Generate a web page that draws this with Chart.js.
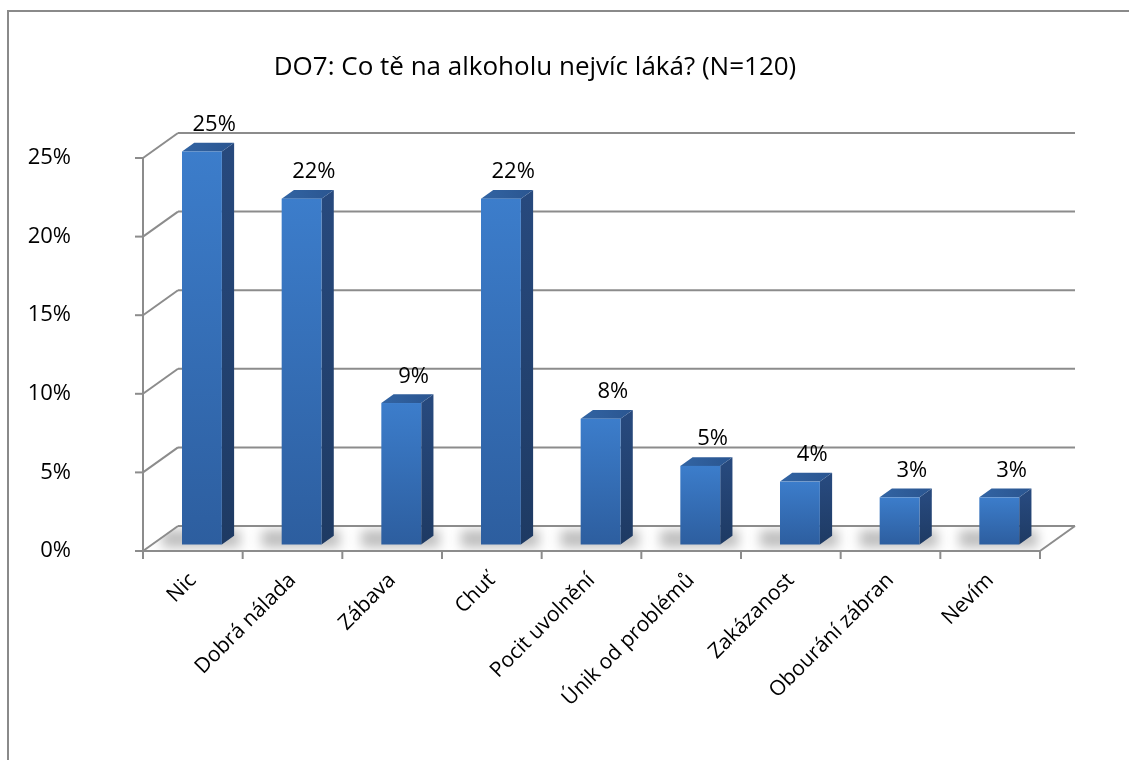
<!DOCTYPE html>
<html>
<head>
<meta charset="utf-8">
<script src="https://cdn.jsdelivr.net/npm/chart.js@4/dist/chart.umd.min.js"></script>
<style>
  html, body { margin: 0; padding: 0; background: #ffffff; }
  #wrap { width: 1129px; height: 760px; position: relative; }
  canvas { display: block; }
</style>
</head>
<body>
<div id="wrap"><canvas id="chart" width="1129" height="760"></canvas></div>
<script>
// Survey question and answer shares (percent of respondents)
const chartTitle = 'DO7: Co tě na alkoholu nejvíc láká? (N=120)';
const categories = ['Nic', 'Dobrá nálada', 'Zábava', 'Chuť', 'Pocit uvolnění',
                    'Únik od problémů', 'Zakázanost', 'Obourání zábran', 'Nevím'];
const shares = [25, 22, 9, 22, 8, 5, 4, 3, 3];
const yTickValues = [0, 5, 10, 15, 20, 25];

// Oblique projection of the box: how far the back wall sits from the front plane
const DEPTH_X = 35;
const DEPTH_Y = -25;
// Where the bars sit inside the depth (fractions of the full depth)
const BAR_FRONT = 0.26;
const BAR_BACK = 0.61;

const FONT = '"Open Sans", "Noto Sans", sans-serif';
const GRID = '#8c8c8c';

function line(ctx, x1, y1, x2, y2) {
  ctx.beginPath();
  ctx.moveTo(x1, y1);
  ctx.lineTo(x2, y2);
  ctx.stroke();
}

const boxPlugin = {
  id: 'box3d',
  beforeDatasetsDraw(chart) {
    const { ctx, chartArea: a, scales: { x, y } } = chart;
    const L = a.left, R = a.right;
    const y0 = y.getPixelForValue(0);
    ctx.save();

    // floor
    ctx.beginPath();
    ctx.moveTo(L, y0);
    ctx.lineTo(R, y0);
    ctx.lineTo(R + DEPTH_X, y0 + DEPTH_Y);
    ctx.lineTo(L + DEPTH_X, y0 + DEPTH_Y);
    ctx.closePath();
    ctx.fillStyle = '#ffffff';
    ctx.fill();

    // soft shadows of the bars on the floor
    ctx.save();
    ctx.clip();
    ctx.filter = 'blur(6px)';
    const meta = chart.getDatasetMeta(0);
    meta.data.forEach((el) => {
      const p = el.getProps(['x', 'width'], true);
      const l = p.x - p.width / 2 + DEPTH_X * BAR_FRONT;
      const r = p.x + p.width / 2 + DEPTH_X * BAR_BACK;
      ctx.fillStyle = 'rgba(0,0,0,0.26)';
      ctx.fillRect(l - 20, y0 + DEPTH_Y + 4, r - l + 26, -DEPTH_Y * 0.7);
    });
    ctx.restore();

    ctx.strokeStyle = GRID;
    ctx.lineWidth = 2;
    ctx.lineCap = 'butt';

    // back wall gridlines and their links to the value axis
    yTickValues.forEach((v) => {
      const py = y.getPixelForValue(v);
      line(ctx, L, py, L + DEPTH_X, py + DEPTH_Y);
      line(ctx, L + DEPTH_X, py + DEPTH_Y, R + DEPTH_X, py + DEPTH_Y);
      line(ctx, L - 8, py, L, py);
    });

    // front and right edges of the floor
    line(ctx, L, y0, R, y0);
    line(ctx, R, y0, R + DEPTH_X, y0 + DEPTH_Y);

    // value axis
    line(ctx, L, y.getPixelForValue(25), L, y0 + 8);

    // category tick marks
    for (let i = 0; i <= categories.length; i++) {
      const px = x.getPixelForValue(i - 0.5);
      line(ctx, px, y0, px, y0 + 8);
    }
    ctx.restore();
  },
  afterDatasetsDraw(chart) {
    const { ctx } = chart;
    const meta = chart.getDatasetMeta(0);
    const fx = DEPTH_X * BAR_FRONT, fy = DEPTH_Y * BAR_FRONT;
    const bx = DEPTH_X * (BAR_BACK - BAR_FRONT), by = DEPTH_Y * (BAR_BACK - BAR_FRONT);
    ctx.save();
    meta.data.forEach((el, i) => {
      const p = el.getProps(['x', 'y', 'base', 'width'], true);
      const l = p.x - p.width / 2 + fx;
      const r = p.x + p.width / 2 + fx;
      const t = p.y + fy;
      const b = p.base + fy;

      // right side
      const gs = ctx.createLinearGradient(0, t, 0, b);
      gs.addColorStop(0, '#27497d');
      gs.addColorStop(1, '#1e3a63');
      ctx.fillStyle = gs;
      ctx.beginPath();
      ctx.moveTo(r, t);
      ctx.lineTo(r + bx, t + by);
      ctx.lineTo(r + bx, b + by);
      ctx.lineTo(r, b);
      ctx.closePath();
      ctx.fill();

      // top
      const gt = ctx.createLinearGradient(l, 0, r + bx, 0);
      gt.addColorStop(0, '#3264a3');
      gt.addColorStop(1, '#2a5590');
      ctx.fillStyle = gt;
      ctx.beginPath();
      ctx.moveTo(l, t);
      ctx.lineTo(l + bx, t + by);
      ctx.lineTo(r + bx, t + by);
      ctx.lineTo(r, t);
      ctx.closePath();
      ctx.fill();

      // front
      const gf = ctx.createLinearGradient(0, t, 0, b);
      gf.addColorStop(0, '#3c7dcb');
      gf.addColorStop(1, '#2d5e9f');
      ctx.fillStyle = gf;
      ctx.fillRect(l, t, r - l, b - t);

      // value label
      ctx.fillStyle = '#000000';
      ctx.font = '22px ' + FONT;
      ctx.textAlign = 'center';
      ctx.textBaseline = 'middle';
      ctx.fillText(shares[i] + '%', p.x + fx + bx, t + by - 18);
    });
    ctx.restore();
  },
  afterDraw(chart) {
    const { ctx } = chart;
    ctx.save();
    // chart title
    ctx.fillStyle = '#000000';
    ctx.font = '26px ' + FONT;
    ctx.textAlign = 'center';
    ctx.textBaseline = 'middle';
    ctx.fillText(chartTitle, 535, 68);
    // outer frame
    ctx.strokeStyle = '#8a8a8a';
    ctx.lineWidth = 2;
    ctx.strokeRect(8, 11, 1200, 800);
    ctx.restore();
  }
};

new Chart(document.getElementById('chart'), {
  type: 'bar',
  data: {
    labels: categories,
    datasets: [{
      data: shares,
      backgroundColor: 'rgba(0,0,0,0)',
      borderWidth: 0,
      categoryPercentage: 1,
      barPercentage: 0.4
    }]
  },
  options: {
    responsive: false,
    devicePixelRatio: 1,
    animation: false,
    layout: { padding: { left: 0, top: 158, right: 89, bottom: 0 } },
    plugins: {
      legend: { display: false },
      title: { display: false },
      tooltip: { enabled: false }
    },
    scales: {
      x: {
        grid: { display: false },
        border: { display: false },
        ticks: {
          color: '#000000',
          font: { family: FONT, size: 21 },
          minRotation: 45,
          maxRotation: 45,
          padding: 9,
          autoSkip: false
        },
        afterFit(scale) { scale.height = 760 - 551; }
      },
      y: {
        min: 0,
        max: 25,
        grid: { display: false, drawTicks: false },
        border: { display: false },
        ticks: {
          stepSize: 5,
          color: '#000000',
          font: { family: FONT, size: 22 },
          padding: 72,
          callback: (v) => v + '%'
        },
        afterFit(scale) { scale.width = 143; }
      }
    }
  },
  plugins: [boxPlugin]
});
</script>
</body>
</html>
